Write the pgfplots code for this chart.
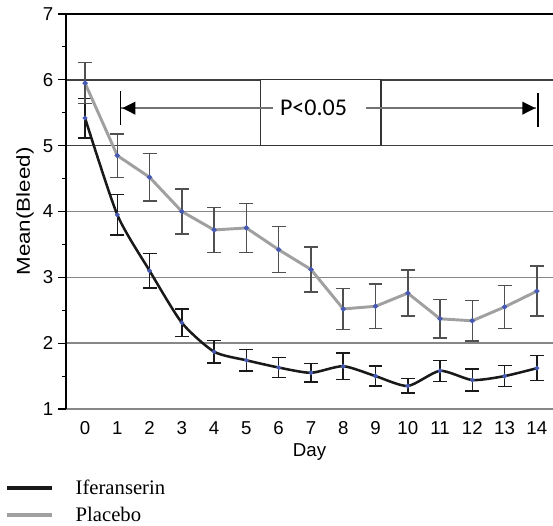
\documentclass[border=0pt]{standalone}
\usepackage{fontspec}
\usepackage{pgfplots}
\pgfplotsset{compat=1.18}
\setmainfont{Liberation Sans}
\newfontfamily\legfont{Liberation Serif}
\newfontfamily\calfont{Carlito}

\definecolor{placebo}{RGB}{160,160,160}
\definecolor{ifer}{RGB}{25,25,25}
\definecolor{gridc}{RGB}{135,135,135}
\definecolor{pbar}{RGB}{80,80,80}
\definecolor{dotc}{RGB}{70,90,180}

\pgfplotstableread{
day mean err
0  5.95 0.31
1  4.85 0.33
2  4.52 0.36
3  4.00 0.34
4  3.72 0.34
5  3.75 0.37
6  3.42 0.35
7  3.12 0.34
8  2.52 0.31
9  2.56 0.34
10 2.76 0.35
11 2.37 0.29
12 2.34 0.31
13 2.55 0.33
14 2.79 0.38
}\placebodata

\pgfplotstableread{
day mean err
0  5.42 0.30
1  3.95 0.31
2  3.10 0.26
3  2.31 0.21
4  1.87 0.17
5  1.74 0.16
6  1.63 0.15
7  1.55 0.14
8  1.65 0.20
9  1.50 0.15
10 1.35 0.11
11 1.58 0.16
12 1.44 0.17
13 1.50 0.16
14 1.62 0.19
}\iferdata

\begin{document}
\begin{tikzpicture}
\begin{axis}[
    scale only axis,
    width=365.25pt, height=296.25pt,
    xmin=-0.59, xmax=14.5,
    ymin=1, ymax=7,
    xtick={0,...,14},
    ytick={1,...,7},
    minor y tick num=1,
    ytick pos=left,
    tick align=outside,
    major tick length=6pt,
    minor tick length=3pt,
    xtick style={draw=none},
    ytick style={black, line width=0.8pt},
    axis line style={draw=none},
    ymajorgrids=true,
    major grid style={gridc, line width=1.1pt},
    tick label style={font=\fontsize{14}{16}\selectfont},
    /pgf/number format/assume math mode=true,
    xlabel={Day},
    ylabel={\scalebox{1.2}[1]{Mean(Bleed)}},
    label style={font=\fontsize{14}{16}\selectfont},
    legend style={at={(axis description cs:-0.134,-0.165)}, anchor=north west,
        draw=none, fill=none, font=\legfont\fontsize{15.5}{18}\selectfont,
        row sep=4pt, nodes={inner xsep=9pt}},
    legend cell align=left,
    legend image code/.code={\draw[#1, line width=3pt] (0pt,0pt) -- (34pt,0pt);},
    clip=false,
]
% darker lines at 5 and 6 (box edges)
\draw[black!75, line width=1.1pt] (axis cs:-0.59,5) -- (axis cs:14.5,5);
\draw[black!75, line width=1.1pt] (axis cs:-0.59,6) -- (axis cs:14.5,6);
% axis frame: left and top
\draw[black, line width=1.1pt] (rel axis cs:0,0) -- (rel axis cs:0,1) -- (rel axis cs:1,1);

\addplot[ifer, line width=1.9pt, smooth, tension=0.4,
    mark=*, mark size=0.6pt, mark options={dotc, draw=none},
    error bars/.cd, y dir=both, y explicit,
    error bar style={ifer, line width=1.1pt, solid},
    error mark options={ifer, line width=1.1pt, mark size=5.2pt, rotate=90}]
    table[x=day, y=mean, y error=err] {\iferdata};
\addlegendentry{\hspace*{7pt}Iferanserin}

\addplot[placebo, line width=2.2pt,
    mark=*, mark size=0.6pt, mark options={dotc, draw=none},
    error bars/.cd, y dir=both, y explicit,
    error bar style={pbar, line width=1.1pt, solid},
    error mark options={pbar, line width=1.1pt, mark size=5.2pt, rotate=90}]
    table[x=day, y=mean, y error=err] {\placebodata};
\addlegendentry{\hspace*{7pt}Placebo}

% significance box and arrow
\draw[black!80, line width=0.9pt, fill=white] (axis cs:5.43,5) rectangle (axis cs:9.17,6);
\draw[black!55, line width=1.2pt] (axis cs:1.12,5.57) -- (axis cs:5.81,5.57);
\draw[black!55, line width=1.2pt] (axis cs:8.71,5.57) -- (axis cs:13.98,5.57);
\fill[black] (axis cs:1.16,5.57) -- (axis cs:1.56,5.67) -- (axis cs:1.56,5.47) -- cycle;
\fill[black] (axis cs:13.95,5.57) -- (axis cs:13.55,5.67) -- (axis cs:13.55,5.47) -- cycle;
\draw[black, line width=1.1pt] (axis cs:1.1,5.83) -- (axis cs:1.1,5.32);
\draw[black, line width=1.1pt] (axis cs:14.03,5.80) -- (axis cs:14.03,5.29);
\node[font=\calfont\fontsize{18}{20}\selectfont] at (axis cs:7.08,5.58) {P<0.05};
\end{axis}
\pgfresetboundingbox
\path (-49.5pt,-87pt) rectangle (365.25pt,306.75pt);
\end{tikzpicture}
\end{document}
